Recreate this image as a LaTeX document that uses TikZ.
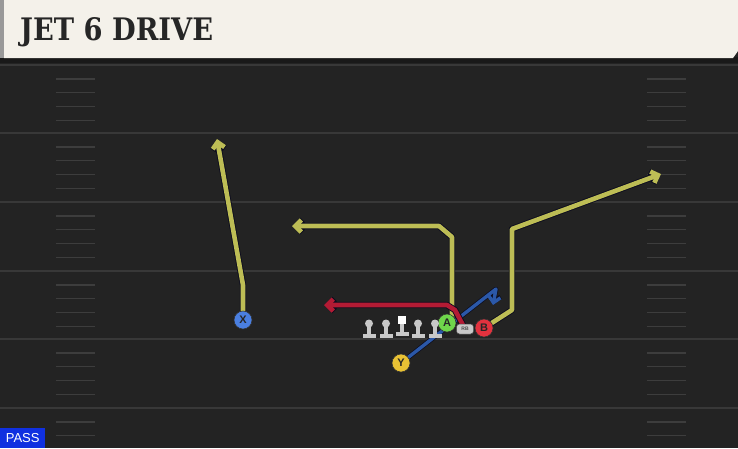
\documentclass[tikz,border=0pt]{standalone}
\usepackage{fontspec}
\setmainfont{Liberation Sans}
\newfontfamily\titlefont{DejaVu Serif}
\usetikzlibrary{arrows.meta}
\pgfdeclarelayer{back}
\pgfdeclarelayer{routes}
\pgfsetlayers{back,routes,main}
\definecolor{field}{HTML}{232323}
\definecolor{yardc}{HTML}{383838}
\definecolor{hashc}{HTML}{3d3d3d}
\definecolor{cream}{HTML}{F4F1EA}
\definecolor{routey}{HTML}{BDBD55}
\definecolor{routeb}{HTML}{2B58A8}
\definecolor{router}{HTML}{B31B34}
\definecolor{outl}{HTML}{0C0C1E}
\definecolor{cx}{HTML}{4A7FE0}
\definecolor{cy}{HTML}{E9C234}
\definecolor{ca}{HTML}{6FD64B}
\definecolor{cb}{HTML}{E2323E}
\definecolor{lmgray}{HTML}{C8C8C8}
\definecolor{passblue}{HTML}{1030E0}
\tikzset{
  route/.style={line width=4.6pt, line join=round,
    preaction={draw=outl, line width=6.4pt, line join=round}},
  thinroute/.style={line width=3.4pt, line join=round,
    preaction={draw=outl, line width=4.8pt, line join=round}},
  tip/.style={-{Straight Barb[length=6pt,width=12pt]}},
  player/.style={circle, draw=black!80, line width=0.6pt, minimum size=18pt, inner sep=0pt,
    font=\bfseries\fontsize{11}{11}\selectfont, text=black!85},
  rbbadge/.style={fill=lmgray, rounded corners=3pt, minimum width=17pt, minimum height=10pt, inner sep=0pt,
    draw=black!70, line width=0.5pt, font=\bfseries\fontsize{5}{5}\selectfont, text=black!70},
  lineman/.pic={
    \fill[lmgray] (0,-4.5) circle (4);
    \fill[lmgray] (-2.2,-2) rectangle (2.2,6);
    \fill[lmgray] (-6.5,5.5) rectangle (6.5,9.5);
  },
  centerman/.pic={
    \fill[white] (-4,-10) rectangle (4,-2);
    \fill[lmgray] (-2.2,-2) rectangle (2.2,6);
    \fill[lmgray] (-6.5,5.5) rectangle (6.5,9.5);
  }
}
\begin{document}
\begin{tikzpicture}[x=1pt,y=-1pt]
\useasboundingbox (0,0) rectangle (738,448);
\begin{pgfonlayer}{back}
\fill[field] (0,0) rectangle (738,448);
\foreach \yy in {65,133,202,271,339,408} {
  \draw[yardc, line width=1.8pt] (0,\yy) -- (738,\yy);
}
\foreach \yy in {65,133,202,271,339} {
  \foreach \k in {1,2,3,4} {
    \draw[hashc, line width=1.4pt] (56,\yy+\k*13.8) -- (95,\yy+\k*13.8);
    \draw[hashc, line width=1.4pt] (647,\yy+\k*13.8) -- (686,\yy+\k*13.8);
  }
}
\foreach \k in {1,2,3} {
  \draw[hashc, line width=1.4pt] (56,408+\k*13.8) -- (95,408+\k*13.8);
  \draw[hashc, line width=1.4pt] (647,408+\k*13.8) -- (686,408+\k*13.8);
}
\fill[black!90] (0,57) rectangle (738,63);
\fill[black!40] (0,0) rectangle (4,58);
\fill[cream] (4,0) -- (738,0) -- (738,51) -- (733,58) -- (4,58) -- cycle;
\end{pgfonlayer}

\node[anchor=west, inner sep=0pt, xscale=0.88] (title) at (20,32)
  {\titlefont\bfseries\fontsize{31}{31}\selectfont\color{black!85}JET 6 DRIVE};
\node[fill=passblue, text=white, anchor=south west, inner xsep=3pt, inner ysep=2pt,
  minimum height=20pt, minimum width=45pt, font=\fontsize{13}{13}\selectfont] (pass) at (0,448) {PASS};

% players
\node[player, fill=cx] (X) at (243,320) {X};
\node[player, fill=cy] (Y) at (401,363) {Y};
\node[player, fill=ca] (A) at (447,323) {A};
\node[player, fill=cb] (B) at (484,328) {B};
\node[rbbadge] (RB) at (465,329) {RB};

% route waypoints
\coordinate (x1) at (243,285);
\coordinate (x2) at (217,139);
\coordinate (a1) at (452,237);
\coordinate (a2) at (439,226);
\coordinate (a3) at (292,226);
\coordinate (r1) at (455,310);
\coordinate (r2) at (447,305);
\coordinate (r3) at (324,305);
\coordinate (b1) at (512,310);
\coordinate (b2) at (512,229);
\coordinate (b3) at (661,174);
\coordinate (y1) at (496,289);
\coordinate (y2) at (493,305);

\begin{pgfonlayer}{routes}
\draw[thinroute, routeb, tip] (Y.center) -- (y1) -- (y2);
\draw[route, routey, tip] (X.center) -- (x1) -- (x2);
\draw[route, routey, tip] (A.center) ++(5,-4) -- (a1) -- (a2) -- (a3);
\draw[route, router, tip] (RB.center) -- (r1) -- (r2) -- (r3);
\draw[route, routey, tip] (B.center) -- (b1) -- (b2) -- (b3);
\end{pgfonlayer}

% linemen
\foreach \lx in {369,386,418,435} { \pic at (\lx,328) {lineman}; }
\pic at (402,326) {centerman};
\end{tikzpicture}
\end{document}
